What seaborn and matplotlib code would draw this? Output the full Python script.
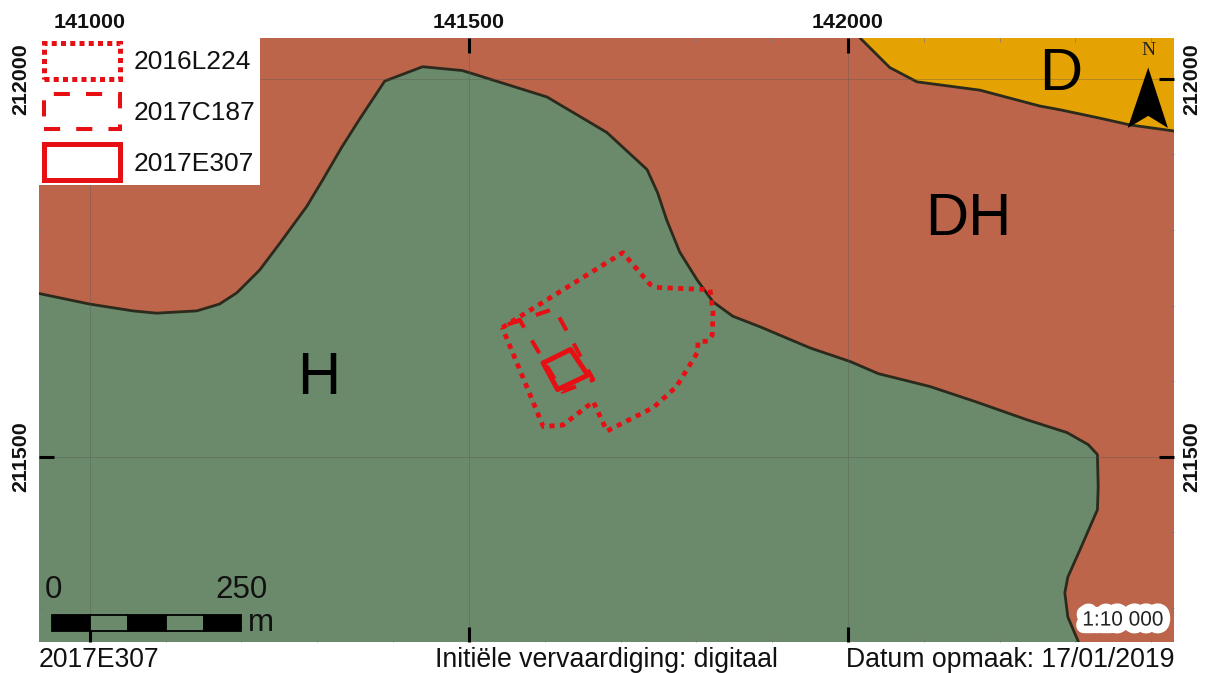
import matplotlib
matplotlib.use("Agg")
import matplotlib.pyplot as plt
import matplotlib.patheffects as pe
from matplotlib.patches import Patch
import seaborn as sns

# boundary between H and the brown DH zone (metres)
h_x = [140933, 141000, 141057, 141088, 141141, 141171, 141194, 141224, 141251, 141286,
       141307, 141332, 141356, 141389, 141439, 141491, 141501, 141603, 141682, 141735,
       141749, 141761, 141778, 141801, 141822, 141848, 141884, 141950, 142003, 142040,
       142108, 142168, 142236, 142289, 142317, 142329, 142330, 142329, 142306, 142290,
       142286, 142290, 142304]
h_y = [211716, 211702, 211693, 211690, 211693, 211702, 211717, 211747, 211783, 211831,
       211866, 211909, 211947, 211997, 212016, 212011, 212008, 211976, 211929, 211880,
       211849, 211813, 211771, 211734, 211705, 211686, 211672, 211644, 211626, 211610,
       211593, 211573, 211549, 211532, 211516, 211503, 211460, 211430, 211377, 211341,
       211320, 211288, 211255]

# boundary of the D zone
d_x = [142016, 142055, 142091, 142174, 142253, 142280, 142332, 142372, 142430]
d_y = [212054, 212015, 211996, 211985, 211964, 211959, 211948, 211939, 211931]

# survey outlines
l224_x = [141544, 141703, 141739, 141748, 141818, 141822, 141821, 141815, 141802, 141802,
          141774, 141743, 141682, 141664, 141624, 141598, 141544]
l224_y = [211671, 211770, 211728, 211724, 211721, 211692, 211661, 211653, 211652, 211639,
          211593, 211565, 211534, 211573, 211542, 211540, 211671]
c187_x = [141551, 141613, 141664, 141623, 141567, 141551]
c187_y = [211675, 211696, 211602, 211586, 211681, 211675]
e307_x = [141598, 141634, 141657, 141617, 141598]
e307_y = [211624, 211642, 211608, 211589, 211624]

arrow_x = [142396, 142422, 142396, 142369]
arrow_y = [212015, 211935, 211951, 211935]

x_ticks = [141000, 141500, 142000]
y_ticks = [211500, 212000]
x_minor = [141100, 141200, 141300, 141400, 141600, 141700, 141800, 141900, 142100, 142200, 142300, 142400]
y_minor = [211300, 211400, 211600, 211700, 211800, 211900]

zone_labels = ["H", "DH", "D"]
zone_x = [141302, 142158, 142280]
zone_y = [211604, 211814, 212006]

scale_left = [140950, 141000, 141050, 141100, 141150]
scale_fill = ["black", "#6a8a6b", "black", "#6a8a6b", "black"]

BROWN = "#bc654b"
GREEN = "#6a8a6b"
YELLOW = "#e5a203"
EDGE = "#2b2a1c"
RED = "#e60f14"

sns.set_theme(style="white")
plt.rcParams["font.family"] = ["Liberation Sans", "DejaVu Sans"]

fig = plt.figure(figsize=(12.09, 6.73), dpi=100)
ax = fig.add_axes([39 / 1209, 1 - 642 / 673, 1135 / 1209, 604 / 673])
ax.set_facecolor(BROWN)

# zones
ax.fill(h_x + [140933], h_y + [211255], color=GREEN, lw=0, zorder=1)
ax.fill(d_x + [142430], d_y + [212054], color=YELLOW, lw=0, zorder=1)
sns.lineplot(x=h_x, y=h_y, sort=False, estimator=None, color=EDGE, lw=2, ax=ax, zorder=2)
sns.lineplot(x=d_x, y=d_y, sort=False, estimator=None, color=EDGE, lw=2, ax=ax, zorder=2)

# outlines
sns.lineplot(x=l224_x, y=l224_y, sort=False, estimator=None, color=RED, lw=3.4, ax=ax, zorder=3,
             linestyle=(0, (1.1, 1.15)))
sns.lineplot(x=c187_x, y=c187_y, sort=False, estimator=None, color=RED, lw=2.9, ax=ax, zorder=3,
             linestyle=(0, (3.7, 3.7)))
sns.lineplot(x=e307_x, y=e307_y, sort=False, estimator=None, color=RED, lw=3.6, ax=ax, zorder=3)

for lab, zx, zy in zip(zone_labels, zone_x, zone_y):
    ax.text(zx, zy, lab, fontsize=43, color="black", ha="center", va="center", zorder=4)

# north arrow
ax.fill(arrow_x, arrow_y, color="black", lw=0, zorder=4)
ax.text(142396, 212037, "N", family="Liberation Serif", fontsize=14, color="#222222",
        ha="center", va="center", zorder=4)

# scale bar
ax.barh([211280] * 5, [50] * 5, left=scale_left, height=22, color=scale_fill,
        edgecolor="black", lw=1.3, zorder=4)
ax.text(140952, 211324, "0", fontsize=22.5, ha="center", va="center", color="#111111", zorder=4)
ax.text(141200, 211324, "250", fontsize=22.5, ha="center", va="center", color="#111111", zorder=4)
ax.text(141226, 211280, "m", fontsize=22.5, ha="center", va="center", color="#111111", zorder=4)

ax.text(142363, 211284, "1:10 000", fontsize=15, ha="center", va="center", color="#222222", zorder=5,
        path_effects=[pe.withStroke(linewidth=11, foreground="white")])

ax.set_xlim(140933, 142430)
ax.set_ylim(211255, 212054)
ax.set_axisbelow(False)
ax.set_xticks(x_ticks)
ax.set_yticks(y_ticks)
ax.set_xticks(x_minor, minor=True)
ax.set_yticks(y_minor, minor=True)
ax.grid(True, which="major", color="#555555", lw=0.6, alpha=0.4)
ax.tick_params(which="major", direction="in", length=11, width=2.2, color="black",
               top=True, bottom=True, left=True, right=True,
               labeltop=True, labelbottom=False, labelleft=True, labelright=True)
ax.tick_params(axis="x", which="major", pad=4)
ax.tick_params(axis="y", which="major", pad=6, labelrotation=90)
ax.tick_params(which="minor", direction="in", length=3, width=0.5, color="#777777",
               top=True, bottom=True, left=True, right=True)
for t in ax.get_xticklabels() + ax.get_yticklabels():
    t.set_fontweight("bold")
    t.set_fontsize(15.4)
    t.set_color("#111111")
for t in ax.get_yticklabels():
    t.set_verticalalignment("center")
for s in ax.spines.values():
    s.set_visible(False)

# legend
handles = [
    Patch(facecolor="white", edgecolor=RED, lw=3.6, linestyle=(0, (1, 0.85)), label="2016L224"),
    Patch(facecolor="white", edgecolor=RED, lw=2.9, linestyle=(0, (4, 4)), label="2017C187"),
    Patch(facecolor="white", edgecolor=RED, lw=3.6, label="2017E307"),
]
leg = ax.legend(handles=handles, loc="upper left", bbox_to_anchor=(0, 1), borderaxespad=0,
                fontsize=19, frameon=True, fancybox=False, framealpha=1, facecolor="white",
                edgecolor="none", handlelength=2.88, handleheight=1.7, handletextpad=0.5,
                labelspacing=0.57, borderpad=0.19)
leg.set_zorder(6)
for t in leg.get_texts():
    t.set_color("#111111")

# footer
fig.text(39 / 1209, 1 - 667 / 673, "2017E307", fontsize=19.1, color="#111111", ha="left", va="baseline")
fig.text(435 / 1209, 1 - 667 / 673, "Initiële vervaardiging: digitaal", fontsize=19.15, color="#111111",
         ha="left", va="baseline")
fig.text(1174 / 1209, 1 - 667 / 673, "Datum opmaak: 17/01/2019", fontsize=19.15, color="#111111",
         ha="right", va="baseline")

fig.savefig("out.png", dpi=100)
